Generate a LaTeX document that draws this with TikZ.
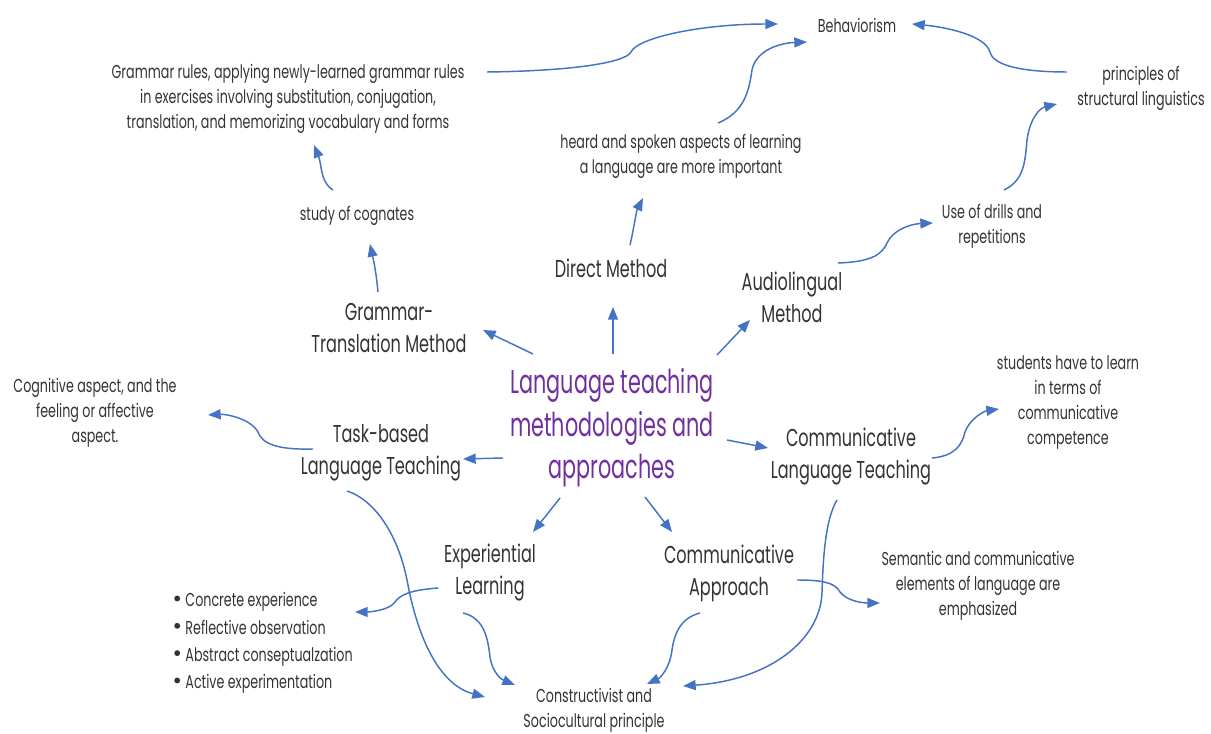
\documentclass[tikz,border=0pt]{standalone}
\usepackage{fontspec}
\setmainfont[FakeStretch=0.68]{Poppins}
\newfontfamily\topicfont[FakeStretch=0.66]{Poppins}
\newfontfamily\hubfont[FakeStretch=0.63]{Poppins}
\usetikzlibrary{arrows.meta}
\definecolor{arrowblue}{HTML}{4472C4}
\definecolor{txt}{HTML}{333333}
\definecolor{hub}{HTML}{7030A0}
\newcommand{\listdot}{\tikz[baseline=-0.5ex]\fill[txt] (0,0.3ex) circle (2.2pt);\hspace{4pt}}

\begin{document}
\begin{tikzpicture}[x=0.75pt,y=-0.75pt,
  arr/.style={draw=arrowblue, line width=1.1pt, -{Triangle[length=9.5pt,width=7.5pt]}},
  note/.style={text=txt, align=center, font=\fontsize{14}{18.75}\selectfont, inner sep=0pt},
  topic/.style={text=txt, align=center, font=\topicfont\fontsize{18.3}{24}\selectfont, inner sep=0pt},
  hubtext/.style={text=hub, align=center, font=\hubfont\fontsize{24.7}{32}\selectfont, inner sep=0pt}]
\useasboundingbox (0,0) rectangle (1211,734);

% central topic
\node[hubtext] (ctr) at (612,428) {Language teaching\\methodologies and\\approaches};

% methods and approaches
\node[topic] (dm)  at (611,268) {Direct Method};
\node[topic] (gt)  at (389,328) {Grammar-\\Translation Method};
\node[topic] (al)  at (792,297) {Audiolingual\\Method};
\node[topic] (tb)  at (381,453) {Task-based\\Language Teaching};
\node[topic] (clt) at (851,457) {Communicative\\Language Teaching};
\node[topic] (el)  at (490,573) {Experiential\\Learning};
\node[topic] (ca)  at (729,573) {Communicative\\Approach};

% notes
\node[note] (beh) at (857,25)  {Behaviorism};
\node[note] (gr)  at (288,99)  {Grammar rules, applying newly-learned grammar rules\\in exercises involving substitution, conjugation,\\translation, and memorizing vocabulary and forms};
\node[note] (hs)  at (681,156) {heard and spoken aspects of learning\\a language are more important};
\node[note] (psl) at (1141,88) {principles of\\structural linguistics};
\node[note] (drl) at (992,226) {Use of drills and\\repetitions};
\node[note] (cog) at (357,216) {study of cognates};
\node[note] (cga) at (95,413)  {Cognitive aspect, and the\\feeling or affective\\aspect.};
\node[note] (stu) at (1068,403) {students have to learn\\in terms of\\communicative\\competence};
\node[note] (sem) at (978,586) {Semantic and communicative\\elements of language are\\emphasized};
\node[note] (con) at (594,710) {Constructivist and\\Sociocultural principle};
\node[note, anchor=west, align=left, font=\fontsize{14}{20.5}\selectfont] (bul) at (174,643)
  {\listdot Concrete experience\\\listdot Reflective observation\\\listdot Abstract conseptualzation\\\listdot Active experimentation};

% straight spokes from the centre
\draw[arr] ([shift={(1,-74)}]ctr.center)   -- ([shift={(2,39)}]dm.center);
\draw[arr] ([shift={(-79,-74)}]ctr.center) -- ([shift={(94,2)}]gt.center);
\draw[arr] ([shift={(105,-73)}]ctr.center) -- ([shift={(-42,23)}]al.center);
\draw[arr] ([shift={(-109,30)}]ctr.center) -- ([shift={(82,6)}]tb.center);
\draw[arr] ([shift={(115,12)}]ctr.center)  -- ([shift={(-83,-9)}]clt.center);
\draw[arr] ([shift={(-52,70)}]ctr.center)  -- ([shift={(43,-41)}]el.center);
\draw[arr] ([shift={(33,69)}]ctr.center)   -- ([shift={(-57,-41)}]ca.center);

% curved links
\draw[arr] ([shift={(19,-23)}]dm.center) .. controls (634,228) and (636,212) .. ([shift={(-38,42)}]hs.center);
\draw[arr] ([shift={(37,-33)}]hs.center) .. controls (745,112) and (749,90) .. (752,70)
  .. controls (756,50) and (780,43) .. ([shift={(-50,17)}]beh.center);
\draw[arr] ([shift={(199,-27)}]gr.center) .. controls (570,71) and (625,63) .. (631,52)
  .. controls (637,38) and (700,24) .. ([shift={(-79,-1)}]beh.center);
\draw[arr] ([shift={(-74,-16)}]psl.center) .. controls (1020,72) and (993,65) .. (990,52)
  .. controls (985,35) and (945,27) .. ([shift={(55,-1)}]beh.center);
\draw[arr] ([shift={(12,-36)}]drl.center) .. controls (1025,180) and (1025,160) .. (1027,140)
  .. controls (1030,118) and (1040,108) .. ([shift={(-84,16)}]psl.center);
\draw[arr] ([shift={(46,-34)}]al.center) .. controls (870,262) and (882,255) .. (887,243)
  .. controls (893,230) and (910,224) .. ([shift={(-59,-3)}]drl.center);
\draw[arr] ([shift={(-11,-36)}]gt.center) .. controls (376,270) and (373,258) .. ([shift={(13,28)}]cog.center);
\draw[arr] ([shift={(-24,-26)}]cog.center) .. controls (320,182) and (322,165) .. ([shift={(26,46)}]gr.center);
\draw[arr] ([shift={(-68,-4)}]tb.center) .. controls (275,450) and (262,443) .. (258,432)
  .. controls (250,418) and (225,414) .. ([shift={(113,2)}]cga.center);
\draw[arr] ([shift={(81,1)}]clt.center) .. controls (955,456) and (962,445) .. (965,432)
  .. controls (970,418) and (985,411) .. ([shift={(-69,6)}]stu.center);
\draw[arr] ([shift={(-34,38)}]tb.center) .. controls (375,500) and (398,535) .. (407,580)
  .. controls (418,640) and (440,685) .. ([shift={(-109,-13)}]con.center);
\draw[arr] ([shift={(-52,15)}]el.center) .. controls (410,590) and (400,595) .. (395,602)
  .. controls (390,610) and (370,612) .. ([shift={(181,-31)}]bul.west);
\draw[arr] ([shift={(-27,40)}]el.center) .. controls (485,618) and (488,640) .. (490,657)
  .. controls (493,675) and (503,680) .. ([shift={(-79,-25)}]con.center);
\draw[arr] ([shift={(-29,40)}]ca.center) .. controls (680,618) and (674,635) .. (672,650)
  .. controls (670,668) and (660,678) .. ([shift={(53,-26)}]con.center);
\draw[arr] ([shift={(-14,43)}]clt.center) .. controls (825,520) and (823,560) .. (822,593)
  .. controls (820,640) and (770,680) .. ([shift={(89,-24)}]con.center);
\draw[arr] ([shift={(68,7)}]ca.center) .. controls (820,580) and (835,582) .. (840,592)
  .. controls (848,602) and (865,603) .. ([shift={(-98,17)}]sem.center);
\end{tikzpicture}
\end{document}
